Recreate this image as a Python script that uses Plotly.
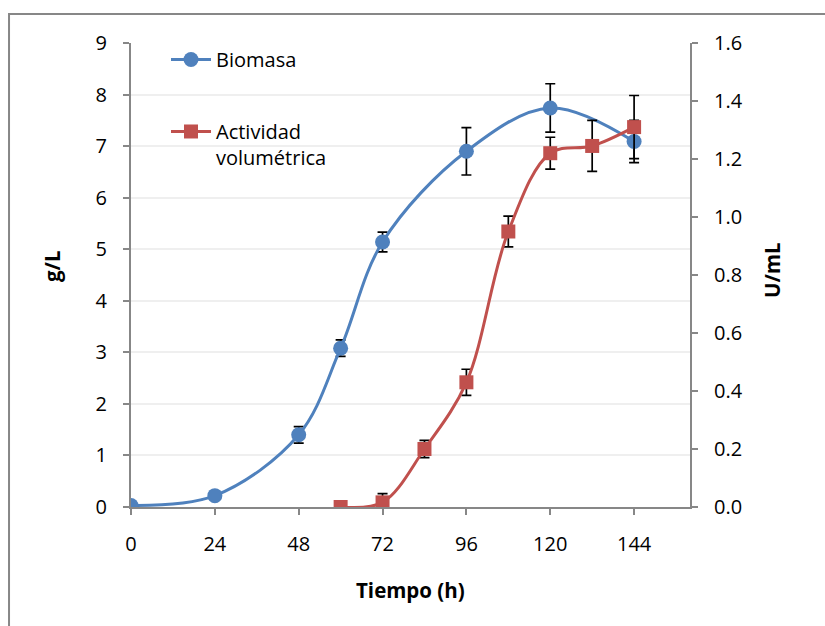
import plotly.graph_objects as go

# Time points (h)
tiempo_biomasa = [0, 24, 48, 60, 72, 96, 120, 144]
tiempo_actividad = [60, 72, 84, 96, 108, 120, 132, 144]

# Biomass (g/L) with standard deviation
biomasa = [0.03, 0.22, 1.40, 3.08, 5.14, 6.90, 7.74, 7.09]
biomasa_err = [0.0, 0.03, 0.16, 0.16, 0.19, 0.46, 0.47, 0.41]

# Volumetric activity (U/mL) with standard deviation
actividad = [0.0, 0.016, 0.20, 0.43, 0.95, 1.22, 1.245, 1.31]
actividad_err = [0.0, 0.03, 0.03, 0.045, 0.053, 0.055, 0.088, 0.109]

# Axis ticks
x_ticks = [0, 24, 48, 72, 96, 120, 144]
y_left_ticks = list(range(0, 10))
y_right_ticks = [0.0, 0.2, 0.4, 0.6, 0.8, 1.0, 1.2, 1.4, 1.6]

BLUE = "#4F81BD"
RED = "#C0504D"
AXIS = "#878787"
FONT = "Open Sans"

fig = go.Figure()

fig.add_trace(go.Scatter(
    x=tiempo_biomasa, y=biomasa, name="Biomasa",
    mode="lines+markers",
    line=dict(color=BLUE, width=3, shape="spline", smoothing=1.0),
    marker=dict(symbol="circle", size=15, color=BLUE),
    error_y=dict(type="data", array=biomasa_err, visible=True,
                 color="black", thickness=1.7, width=5),
    legendgroup="a", yaxis="y",
))

fig.add_trace(go.Scatter(
    x=tiempo_actividad, y=actividad, name="Actividad<br>volumétrica",
    mode="lines+markers",
    line=dict(color=RED, width=3, shape="spline", smoothing=1.0),
    marker=dict(symbol="square", size=14, color=RED),
    error_y=dict(type="data", array=actividad_err, visible=True,
                 color="black", thickness=1.7, width=5),
    legendgroup="b", yaxis="y2",
))

# Outer chart frame
fig.add_shape(type="rect", xref="paper", yref="paper",
              x0=-0.2182, x1=1.3, y0=-0.3, y1=1.0625,
              line=dict(color=AXIS, width=2), fillcolor="rgba(0,0,0,0)",
              layer="below")

title_font = dict(family=FONT, size=20.5, color="black", weight="bold")

fig.add_annotation(text="<b>g/L</b>", xref="paper", yref="paper",
                   x=(52 - 131) / 559, y=(507 - 266) / 464, textangle=-90,
                   showarrow=False, font=title_font,
                   xanchor="center", yanchor="middle")
fig.add_annotation(text="<b>U/mL</b>", xref="paper", yref="paper",
                   x=(772 - 131) / 559, y=(507 - 270) / 464, textangle=-90,
                   showarrow=False, font=title_font,
                   xanchor="center", yanchor="middle")
fig.add_annotation(text="<b>Tiempo (h)</b>", xref="paper", yref="paper",
                   x=0.5, y=(507 - 590) / 464,
                   showarrow=False, font=title_font,
                   xanchor="center", yanchor="middle")

tick_font = dict(family=FONT, size=20, color="black")

fig.update_layout(
    width=825, height=626,
    margin=dict(l=131, r=135, t=43, b=119),
    paper_bgcolor="white", plot_bgcolor="white",
    showlegend=True,
    legend=dict(x=(166 - 131) / 559, y=1.0065, xanchor="left", yanchor="top",
                font=dict(family=FONT, size=20, color="black"),
                bgcolor="rgba(0,0,0,0)", borderwidth=0, itemwidth=40,
                traceorder="grouped", tracegroupgap=43, valign="top"),
    xaxis=dict(range=[0, 160], tickvals=x_ticks, showgrid=False,
               showline=True, linecolor=AXIS, linewidth=2,
               ticks="outside", ticklen=6, tickcolor=AXIS, tickwidth=1.5,
               tickfont=tick_font, ticklabelstandoff=12, zeroline=False),
    yaxis=dict(range=[0, 9], tickvals=y_left_ticks, showgrid=True,
               gridcolor="#EFEFEF", gridwidth=1.5,
               showline=True, linecolor=AXIS, linewidth=2,
               ticks="outside", ticklen=6, tickcolor=AXIS, tickwidth=1.5,
               tickfont=tick_font, ticklabelstandoff=12, zeroline=False),
    yaxis2=dict(range=[0, 1.6], tickvals=y_right_ticks, tickformat=".1f",
                overlaying="y", side="right", anchor="x", showgrid=False,
                showline=True, linecolor=AXIS, linewidth=2,
                ticks="outside", ticklen=6, tickcolor=AXIS, tickwidth=1.5,
                tickfont=tick_font, ticklabelstandoff=12, zeroline=False),
)

fig.write_html("out.html")
